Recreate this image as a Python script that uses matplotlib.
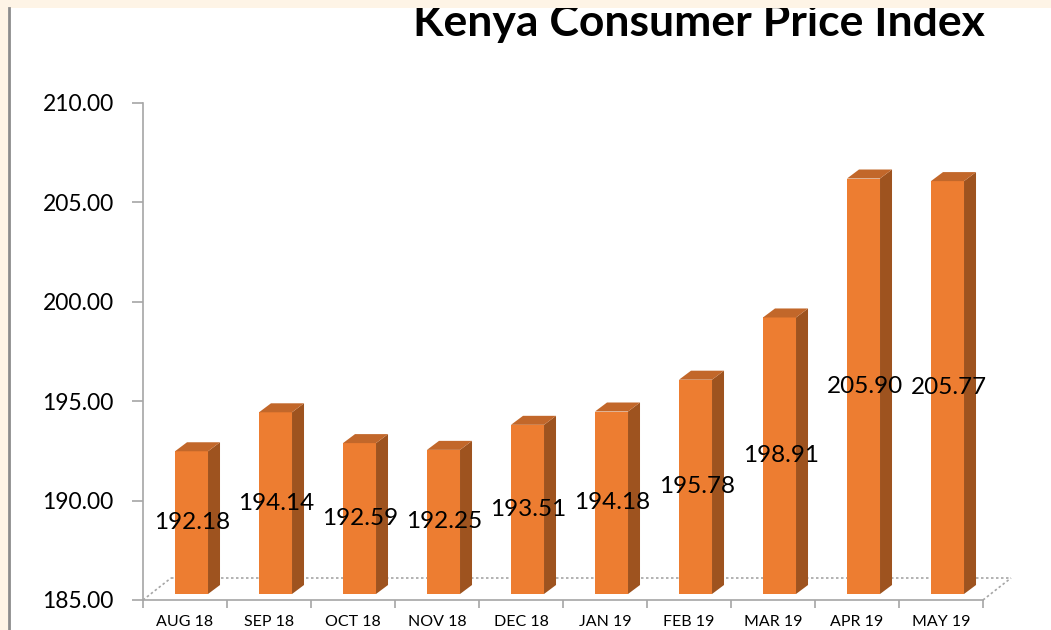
import matplotlib
matplotlib.use("Agg")
import matplotlib.pyplot as plt
import matplotlib.transforms as mtransforms
from matplotlib.patches import Polygon, Rectangle
from matplotlib.lines import Line2D

# ---------------------------------------------------------------------------
# Data
# ---------------------------------------------------------------------------
months = ["AUG 18", "SEP 18", "OCT 18", "NOV 18", "DEC 18",
          "JAN 19", "FEB 19", "MAR 19", "APR 19", "MAY 19"]
cpi = [192.18, 194.14, 192.59, 192.25, 193.51,
       194.18, 195.78, 198.91, 205.90, 205.77]
y_ticks = [185, 190, 195, 200, 205, 210]

C_FRONT = "#ED7D31"
C_SIDE = "#9E531F"
C_TOP = "#C2672A"
C_AXIS = "#A6A6A6"
C_CREAM = "#FEF4E6"

plt.rcParams["font.family"] = ["Lato", "DejaVu Sans"]

fig = plt.figure(figsize=(10.51, 6.30), dpi=100)
ax = fig.add_axes([143 / 1051, 1 - 600 / 630, 840 / 1051, 497 / 630])

ax.set_xlim(-0.5, len(months) - 0.5)
ax.set_ylim(185, 210)

# 3D-ish look: bars lifted a few pixels, side/top faces offset in pixels
lift = mtransforms.offset_copy(ax.transData, fig=fig, x=0, y=6, units="dots")
px_x = 1.0 / 84.0          # data units per pixel, x
px_y = 25.0 / 497.0        # data units per pixel, y
dx, dy = 12 * px_x, 9 * px_y
x_off, w = -0.119, 0.393

for i, v in enumerate(cpi):
    x0 = i + x_off
    x1 = x0 + w
    ax.add_patch(Rectangle((x0, 185), w, v - 185, facecolor=C_FRONT,
                           edgecolor="none", transform=lift, zorder=3))
    ax.add_patch(Polygon([(x1, 185), (x1 + dx, 185 + dy), (x1 + dx, v + dy), (x1, v)],
                         closed=True, facecolor=C_SIDE, edgecolor="none",
                         transform=lift, zorder=3, clip_on=False))
    ax.add_patch(Polygon([(x0, v), (x1, v), (x1 + dx, v + dy), (x0 + dx, v + dy)],
                         closed=True, facecolor=C_TOP, edgecolor="none",
                         transform=lift, zorder=3, clip_on=False))
    ax.text(i + 0.09, (185 + v) / 2, f"{v:.2f}", transform=lift,
            ha="center", va="center", fontsize=17.5, color="black", zorder=5)

# floor (dotted back edge + diagonals)
fx, fy = 28 * px_x, 22 * px_y
n = len(months)
floor_kw = dict(color=C_AXIS, lw=1.2, ls=(0, (1.5, 1.5)), clip_on=False, zorder=2)
ax.plot([-0.5 + fx, n - 0.5 + fx], [185 + fy, 185 + fy], **floor_kw)
ax.plot([-0.5, -0.5 + fx], [185, 185 + fy], **floor_kw)
ax.plot([n - 0.5, n - 0.5 + fx], [185, 185 + fy], **floor_kw)

# axes styling
for s in ("top", "right"):
    ax.spines[s].set_visible(False)
for s in ("left", "bottom"):
    ax.spines[s].set_color(C_AXIS)
    ax.spines[s].set_linewidth(1.2)

ax.set_yticks(y_ticks)
ax.set_yticklabels([f"{t:.2f}" for t in y_ticks])
ax.tick_params(axis="y", length=8, width=1.2, color=C_AXIS, labelsize=16.5, pad=13)

ax.set_xticks(range(n))
ax.set_xticklabels(months)
ax.set_xticks([k - 0.5 for k in range(n + 1)], minor=True)
ax.tick_params(axis="x", which="major", length=0, labelsize=11.5, pad=11)
ax.tick_params(axis="x", which="minor", length=6, width=1.2, color=C_AXIS)

# title (top edge tucked under the cream strip, as in the source)
fig.text(699 / 1051, 1 - 36 / 630, "Kenya Consumer Price Index", ha="center",
         va="baseline", fontsize=32, fontweight="bold", color="black")

# cream frame strips on the top and left, plus grey divider line
fig.patches.append(Rectangle((0, 1 - 8 / 630), 1, 8 / 630, transform=fig.transFigure,
                             facecolor=C_CREAM, edgecolor="none", zorder=10))
fig.patches.append(Rectangle((0, 0), 8 / 1051, 1, transform=fig.transFigure,
                             facecolor=C_CREAM, edgecolor="none", zorder=10))
fig.lines.append(Line2D([9 / 1051, 9 / 1051], [0, 1 - 8 / 630], transform=fig.transFigure,
                        color="#8C8C8C", lw=2, zorder=11))

fig.savefig("out.png", dpi=100)
